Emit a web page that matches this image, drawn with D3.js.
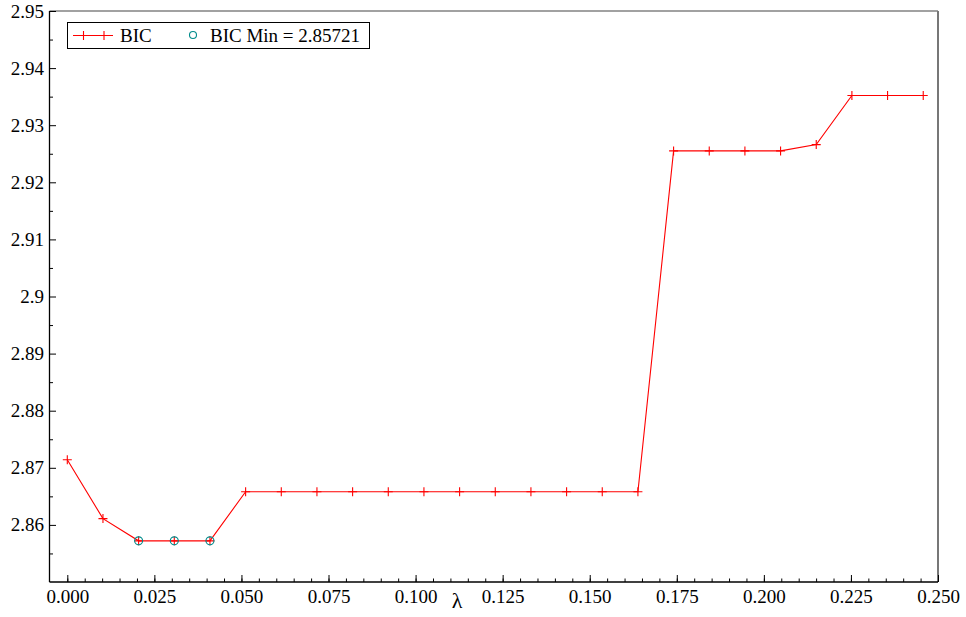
<!DOCTYPE html>
<html>
<head>
<meta charset="utf-8">
<script src="https://cdn.jsdelivr.net/npm/d3@7"></script>
<style>
  body { margin: 0; background: #fff; }
</style>
</head>
<body>
<div id="chart"></div>
<script>
// data
const lambdas = [0, 0.01024, 0.02048, 0.03072, 0.04096, 0.0512, 0.06144, 0.07168, 0.08192,
  0.09216, 0.1024, 0.11264, 0.12288, 0.13312, 0.14336, 0.1536, 0.16384, 0.17408,
  0.18432, 0.19456, 0.2048, 0.21504, 0.22528, 0.23552, 0.24576]
const bic = [2.8714, 2.8611, 2.85721, 2.85721, 2.85721, 2.8658, 2.8658, 2.8658, 2.8658,
  2.8658, 2.8658, 2.8658, 2.8658, 2.8658, 2.8658, 2.8658, 2.8658, 2.9255,
  2.9255, 2.9255, 2.9255, 2.9266, 2.9352, 2.9352, 2.9352]
const minIdx = [2, 3, 4]
const bicMin = 2.85721
const xTicks = [0, 0.025, 0.05, 0.075, 0.1, 0.125, 0.15, 0.175, 0.2, 0.225, 0.25]
const yTicks = [2.86, 2.87, 2.88, 2.89, 2.9, 2.91, 2.92, 2.93, 2.94, 2.95]

const W = 966, H = 617
const margin = {top: 11, right: 28, bottom: 35, left: 49.5}
const FONT = "'Liberation Serif', 'DejaVu Serif', serif"

const svg = d3.select("#chart").append("svg")
  .attr("width", W)
  .attr("height", H)
  .attr("font-family", FONT)

const x = d3.scaleLinear().domain([-0.00511, 0.25]).range([margin.left, W - margin.right])
const y = d3.scaleLinear().domain([2.85, 2.95]).range([H - margin.bottom, margin.top])

// frame: top + right in grey
svg.append("line")
  .attr("x1", margin.left).attr("x2", W - margin.right)
  .attr("y1", margin.top).attr("y2", margin.top)
  .attr("stroke", "#444").attr("stroke-width", 1.2)
svg.append("line")
  .attr("x1", W - margin.right).attr("x2", W - margin.right)
  .attr("y1", margin.top).attr("y2", H - margin.bottom)
  .attr("stroke", "#777").attr("stroke-width", 2)

// x axis (ticks inward)
const xMinor = d3.range(0, 0.2501, 0.005)
svg.append("g")
  .attr("transform", `translate(0,${H - margin.bottom})`)
  .call(d3.axisBottom(x).tickValues(xMinor).tickSize(-3.5).tickFormat(""))
  .call(g => g.select(".domain").remove())
const xAxis = svg.append("g")
  .attr("transform", `translate(0,${H - margin.bottom})`)
  .call(d3.axisBottom(x).tickValues(xTicks).tickSize(-7).tickPadding(8).tickFormat(d3.format(".3f")))
xAxis.attr("font-family", FONT)
xAxis.select(".domain").attr("d", `M${margin.left},0H${W - margin.right}`).attr("stroke-width", 1.3)
xAxis.selectAll("text").attr("font-size", 19).attr("fill", "#000").attr("font-family", FONT)

// y axis (ticks inward)
const yMinor = d3.range(2.855, 2.9501, 0.01)
svg.append("g")
  .attr("transform", `translate(${margin.left},0)`)
  .call(d3.axisLeft(y).tickValues(yMinor).tickSize(-3.5).tickFormat(""))
  .call(g => g.select(".domain").remove())
const yAxis = svg.append("g")
  .attr("transform", `translate(${margin.left},0)`)
  .call(d3.axisLeft(y).tickValues(yTicks).tickSize(-6.5).tickPadding(5.5).tickFormat(d => d3.format("~g")(+d.toFixed(2))))
yAxis.attr("font-family", FONT)
yAxis.select(".domain").attr("d", `M0,${margin.top}V${H - margin.bottom}`).attr("stroke-width", 1.3)
yAxis.selectAll("text").attr("font-size", 19).attr("fill", "#000").attr("font-family", FONT)

svg.append("text")
  .attr("x", 457).attr("y", 608)
  .attr("text-anchor", "middle")
  .attr("font-size", 22)
  .attr("font-family", FONT)
  .text("λ")

// BIC line
const pts = lambdas.map((l, i) => [l, bic[i]])
svg.append("path")
  .datum(pts)
  .attr("fill", "none")
  .attr("stroke", "#ff0000")
  .attr("stroke-width", 1.1)
  .attr("d", d3.line().x(d => x(d[0])).y(d => y(d[1])))

const plus = (g, cx, cy) => {
  g.append("path")
    .attr("d", `M${cx - 4.5},${cy}H${cx + 4.5}M${cx},${cy - 4.5}V${cy + 4.5}`)
    .attr("stroke", "#ff0000").attr("stroke-width", 1.1).attr("fill", "none")
}
const marks = svg.append("g")
pts.forEach(d => plus(marks, x(d[0]), y(d[1])))

// min markers
svg.append("g").selectAll("circle")
  .data(minIdx)
  .join("circle")
  .attr("cx", i => x(lambdas[i]))
  .attr("cy", i => y(bic[i]))
  .attr("r", 4)
  .attr("fill", "none")
  .attr("stroke", "#008b8b")
  .attr("stroke-width", 1.1)

// legend
const lg = svg.append("g")
lg.append("rect")
  .attr("x", 67.5).attr("y", 22.5).attr("width", 302).attr("height", 26)
  .attr("fill", "#fff").attr("stroke", "#000").attr("stroke-width", 1)
lg.append("line")
  .attr("x1", 73).attr("x2", 113).attr("y1", 35.5).attr("y2", 35.5)
  .attr("stroke", "#ff0000").attr("stroke-width", 1.1)
plus(lg, 83.5, 35.5)
plus(lg, 104, 35.5)
lg.append("text").attr("x", 120).attr("y", 42).attr("font-size", 19).text("BIC")
lg.append("circle")
  .attr("cx", 193).attr("cy", 35).attr("r", 3.5)
  .attr("fill", "none").attr("stroke", "#008b8b").attr("stroke-width", 1.1)
lg.append("text").attr("x", 210).attr("y", 42).attr("font-size", 19).text("BIC Min = " + bicMin)
</script>
</body>
</html>
